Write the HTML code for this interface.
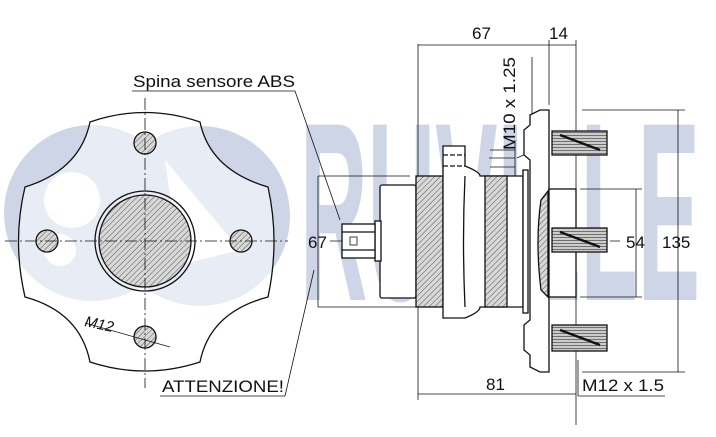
<!DOCTYPE html>
<html><head><style>html,body{margin:0;padding:0;background:#fff}svg{display:block}</style></head>
<body>
<svg width="716" height="437" viewBox="0 0 716 437" xmlns="http://www.w3.org/2000/svg" font-family="Liberation Sans, sans-serif">
<defs>
<pattern id="h" width="4" height="4" patternUnits="userSpaceOnUse" patternTransform="rotate(45)">
<rect width="4" height="4" fill="#d8d8d8"/><line x1="0" y1="0" x2="0" y2="4" stroke="#555" stroke-width="1"/></pattern>
<pattern id="h2" width="3" height="3" patternUnits="userSpaceOnUse" patternTransform="rotate(90)">
<rect width="3" height="3" fill="#ccc"/><line x1="0" y1="0" x2="0" y2="3" stroke="#333" stroke-width="1.2"/></pattern>
</defs>
<!-- watermark -->
<g fill="#cdd5e6">
<circle cx="92" cy="213" r="88"/>
<circle cx="200" cy="216" r="90"/>
<text x="300" y="300" font-size="255" font-weight="bold" textLength="400" lengthAdjust="spacingAndGlyphs">RUVILLE</text>
</g>
<g fill="#fff"><circle cx="72" cy="200" r="28"/><circle cx="60" cy="250" r="16"/><polygon points="165,160 240,250 180,265"/></g>
<g fill="none" stroke="#111" stroke-width="1.3">
<path d="M90,122 Q145,103 200,122 Q210,170 268,187 Q280,241 268,297 Q210,312 200,362 Q145,380 90,362 Q80,312 25,297 Q12,241 25,187 Q80,170 90,122 Z" fill="#fff" fill-opacity="0.55"/>
<circle cx="145" cy="241" r="50"/>
<circle cx="145" cy="241" r="46" fill="url(#h)"/>
<circle cx="145" cy="143" r="11" fill="url(#h)"/>
<circle cx="47" cy="241" r="11" fill="url(#h)"/>
<circle cx="241" cy="241" r="11" fill="url(#h)"/>
<circle cx="145" cy="337" r="11" fill="url(#h)"/>
</g>
<g stroke="#111" stroke-width="0.8" stroke-dasharray="12,3,2,3">
<line x1="5" y1="241" x2="288" y2="241"/>
<line x1="145" y1="98" x2="145" y2="388"/>
<line x1="330" y1="241" x2="620" y2="241"/>
</g>
<g stroke="#111" stroke-width="0.8" fill="none">
<line x1="132" y1="91" x2="295" y2="91"/><line x1="295" y1="91" x2="340" y2="220"/>
<line x1="85" y1="323" x2="170" y2="347"/>
<line x1="160" y1="396" x2="285" y2="396"/><line x1="285" y1="396" x2="314" y2="270"/>
<line x1="318" y1="176" x2="410" y2="176"/><line x1="318" y1="307" x2="416" y2="307"/>
<line x1="318" y1="176" x2="318" y2="307"/>
<line x1="418" y1="44" x2="418" y2="180"/><line x1="418" y1="305" x2="418" y2="400"/>
<line x1="418" y1="45" x2="576" y2="45"/>
<line x1="549" y1="40" x2="549" y2="105"/>
<line x1="576" y1="40" x2="576" y2="425"/>
<line x1="418" y1="394" x2="576" y2="394"/>
<line x1="578" y1="396" x2="665" y2="396"/>
<line x1="578" y1="360" x2="578" y2="396"/>
<line x1="582" y1="110" x2="685" y2="110"/><line x1="582" y1="372" x2="685" y2="372"/>
<line x1="678" y1="110" x2="678" y2="372"/>
<line x1="580" y1="189" x2="642" y2="189"/><line x1="580" y1="297" x2="642" y2="297"/>
<line x1="636" y1="189" x2="636" y2="297"/>
<line x1="490" y1="150" x2="515" y2="150"/><line x1="490" y1="167" x2="515" y2="167"/>
<line x1="489" y1="158" x2="515" y2="158"/>
<line x1="515" y1="140" x2="515" y2="176"/>
<line x1="517" y1="158" x2="532" y2="151"/><line x1="532" y1="151" x2="532" y2="57"/>
</g>
<g stroke="#111" stroke-width="1.3" fill="#fff">
<rect x="380" y="185" width="36" height="113" rx="2"/>
<rect x="375" y="221" width="6" height="40"/>
<rect x="342" y="224" width="33" height="34"/>
<line x1="342" y1="232" x2="375" y2="232"/><line x1="342" y1="250" x2="375" y2="250"/>
<rect x="350" y="237" width="7" height="8" fill="none" stroke-width="0.8"/>
<rect x="416" y="176" width="27" height="131" fill="url(#h)"/>
<path d="M443,146 H465 V166 Q480,172 480,176 H523 V307 H480 Q480,312 465,318 V318 H443 Z"/>
<line x1="443" y1="155" x2="465" y2="155" stroke-dasharray="5,2"/>
<line x1="443" y1="166" x2="465" y2="166" stroke-dasharray="5,2"/>
<path d="M465,176 Q462,241 465,307" fill="none"/>
<rect x="485" y="176" width="22" height="131" fill="url(#h)"/>
<rect x="523" y="170" width="5" height="143"/>
<path d="M530,115 L540,110 H549 V372 H540 L530,367 V355 L524,350 V325 L530,320 V160 L524,155 V130 L530,125 Z"/>
<path d="M548,191 V297 L541,290 Q535,241 541,200 Z" fill="url(#h)"/>
<rect x="549" y="189" width="27" height="108"/>
<rect x="552" y="131" width="55" height="24" fill="url(#h2)"/>
<rect x="552" y="228" width="55" height="24" fill="url(#h2)"/>
<rect x="552" y="325" width="55" height="26" fill="url(#h2)"/>
</g>
<g stroke="#111" stroke-width="2.5">
<line x1="560" y1="135" x2="600" y2="150"/><line x1="560" y1="232" x2="600" y2="247"/><line x1="560" y1="330" x2="600" y2="345"/>
</g>
<g fill="#111" font-size="17">
<text x="133" y="87" textLength="162" lengthAdjust="spacingAndGlyphs">Spina sensore ABS</text>
<text x="162" y="392" textLength="122" lengthAdjust="spacingAndGlyphs">ATTENZIONE!</text>
<text x="84" y="326" font-style="italic" font-size="15" transform="rotate(12 84 326)">M12</text>
<text x="472" y="39">67</text>
<text x="549" y="39">14</text>
<text x="308" y="248">67</text>
<text x="486" y="390">81</text>
<text x="582" y="391" textLength="82" lengthAdjust="spacingAndGlyphs">M12 x 1.5</text>
<text x="626" y="248">54</text>
<text x="662" y="248">135</text>
<text x="0" y="0" transform="translate(515,150) rotate(-90)" textLength="93" lengthAdjust="spacingAndGlyphs">M10 x 1.25</text>
</g>
</svg>
</body></html>
